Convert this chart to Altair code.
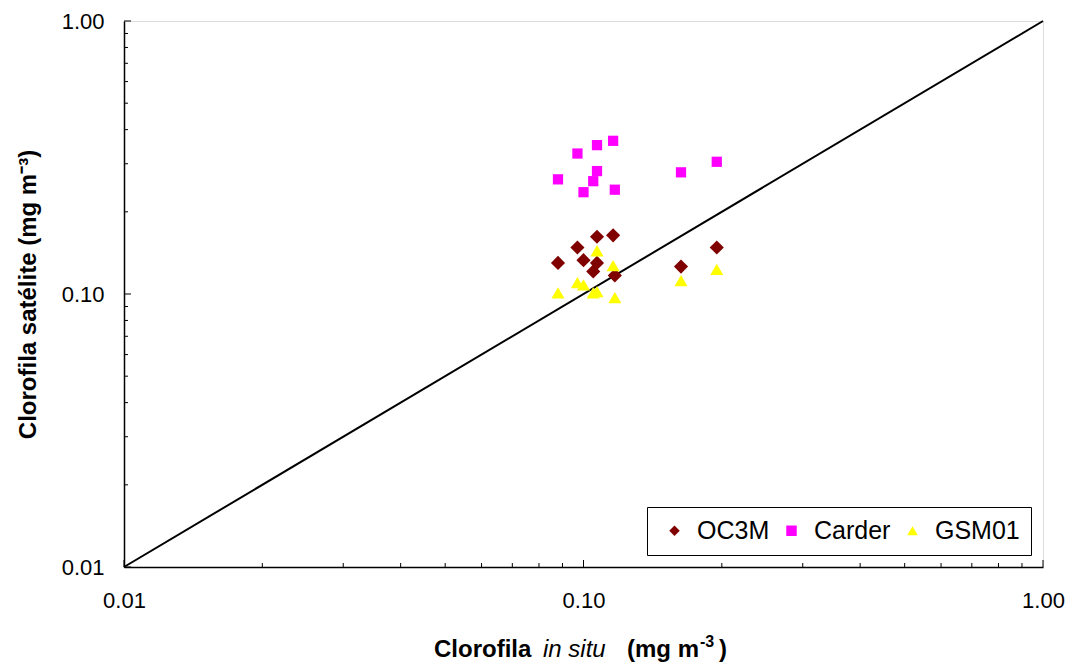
import altair as alt
import pandas as pd

# ---- data ----
x_insitu = [0.088, 0.097, 0.100, 0.105, 0.107, 0.107, 0.116, 0.117, 0.163, 0.195]
oc3m     = [0.130, 0.148, 0.133, 0.121, 0.162, 0.130, 0.164, 0.117, 0.126, 0.148]
carder   = [0.263, 0.327, 0.236, 0.259, 0.351, 0.282, 0.364, 0.241, 0.279, 0.305]
gsm01    = [0.101, 0.110, 0.108, 0.101, 0.144, 0.102, 0.127, 0.097, 0.112, 0.123]

series = ["OC3M", "Carder", "GSM01"]
colors = ["#800000", "#FF00FF", "#FFFF00"]
shapes = ["diamond", "square", "triangle-up"]
sizes = [200, 105, 170]

one_to_one = [0.01, 1.0]
major_ticks = [0.01, 0.1, 1.0]
minor_ticks = [0.02, 0.03, 0.04, 0.05, 0.06, 0.07, 0.08, 0.09,
               0.2, 0.3, 0.4, 0.5, 0.6, 0.7, 0.8, 0.9]

rows = []
for name, vals in zip(series, [oc3m, carder, gsm01]):
    for xv, yv in zip(x_insitu, vals):
        rows.append({"insitu": xv, "sat": yv, "serie": name})
df = pd.DataFrame(rows)

W, H = 919, 546
FONT = "Liberation Sans"

xscale = alt.Scale(type="log", domain=[0.01, 1], nice=False)
yscale = alt.Scale(type="log", domain=[0.01, 1], nice=False)

legend = alt.Legend(
    title=None, orient="bottom-right", direction="horizontal", offset=12,
    strokeColor="black", fillColor="white", padding=11,
    labelFont=FONT, labelFontSize=25, labelColor="black",
    symbolOffset=4, labelOffset=10, columnPadding=5, symbolSize=110,
    symbolStrokeWidth=0, symbolOpacity=1,
)

# 1:1 line
line_df = pd.DataFrame({"insitu": one_to_one, "sat": one_to_one})
diag = alt.Chart(line_df).mark_line(color="black", strokeWidth=2).encode(
    x=alt.X("insitu:Q", scale=xscale),
    y=alt.Y("sat:Q", scale=yscale),
)

xaxis = alt.Axis(values=major_ticks, format=".2f", ticks=False, grid=False,
                 domainColor="black", domainWidth=1.5,
                 labelFont=FONT, labelFontSize=22, labelColor="black",
                 labelPadding=23, labelFlush=False, title=None)
yaxis = alt.Axis(values=major_ticks, format=".2f", ticks=False, grid=False,
                 domainColor="black", domainWidth=1.5,
                 labelFont=FONT, labelFontSize=22, labelColor="black",
                 labelPadding=20, labelFlush=False,
                 title="Clorofila satélite (mg m⁻³)",
                 titleFont=FONT, titleFontSize=24, titleFontWeight="bold",
                 titleColor="black", titleAngle=270, titleAlign="center",
                 titleBaseline="middle", titleX=-96, titleY=H / 2)

def series_layer(name, size):
    return alt.Chart(df).transform_filter(alt.datum.serie == name).mark_point(
        filled=True, opacity=1, strokeWidth=0, size=size
    ).encode(
        x=alt.X("insitu:Q", scale=xscale, axis=xaxis),
        y=alt.Y("sat:Q", scale=yscale, axis=yaxis),
        color=alt.Color("serie:N", scale=alt.Scale(domain=series, range=colors), legend=legend),
        shape=alt.Shape("serie:N", scale=alt.Scale(domain=series, range=shapes), legend=legend),
    )

point_layers = [series_layer(n, s) for n, s in zip(series, sizes)]

# inside ticks
def xticks(vals, length):
    return alt.Chart(pd.DataFrame({"insitu": vals})).mark_rule(color="black", strokeWidth=1).encode(
        x=alt.X("insitu:Q", scale=xscale),
        y=alt.value(H), y2=alt.value(H - length),
    )

def yticks(vals, length):
    return alt.Chart(pd.DataFrame({"sat": vals})).mark_rule(color="black", strokeWidth=1).encode(
        y=alt.Y("sat:Q", scale=yscale),
        x=alt.value(0), x2=alt.value(length),
    )

# x-axis title with mixed styles
def txt(s, px, py, size=24, weight="bold", style="normal"):
    return alt.Chart(pd.DataFrame({"t": [s]})).mark_text(
        font=FONT, fontSize=size, fontWeight=weight, fontStyle=style,
        align="left", baseline="alphabetic", color="black",
    ).encode(text="t:N", x=alt.value(px), y=alt.value(py))

X0, Y0 = 124, 21
base_y = 657 - Y0
title_parts = [
    txt("Clorofila", 434 - X0, base_y),
    txt("in situ", 543 - X0, base_y, weight="normal", style="italic"),
    txt("(mg m", 627 - X0, base_y),
    txt("-3", 700 - X0, 647 - Y0, size=16),
    txt(")", 719 - X0, base_y),
]

chart = alt.layer(
    diag,
    xticks(minor_ticks, 4), xticks(major_ticks, 7),
    yticks(minor_ticks, 4), yticks(major_ticks, 7),
    *point_layers,
    *title_parts,
).properties(
    width=W, height=H,
    padding={"left": X0, "top": Y0, "right": 1073 - X0 - W, "bottom": 668 - Y0 - H},
    autosize=alt.AutoSizeParams(type="none"),
).configure_view(stroke="#808080", strokeWidth=1).configure(background="white")

chart.save("out.html", embed_options={"renderer": "svg", "actions": False})
